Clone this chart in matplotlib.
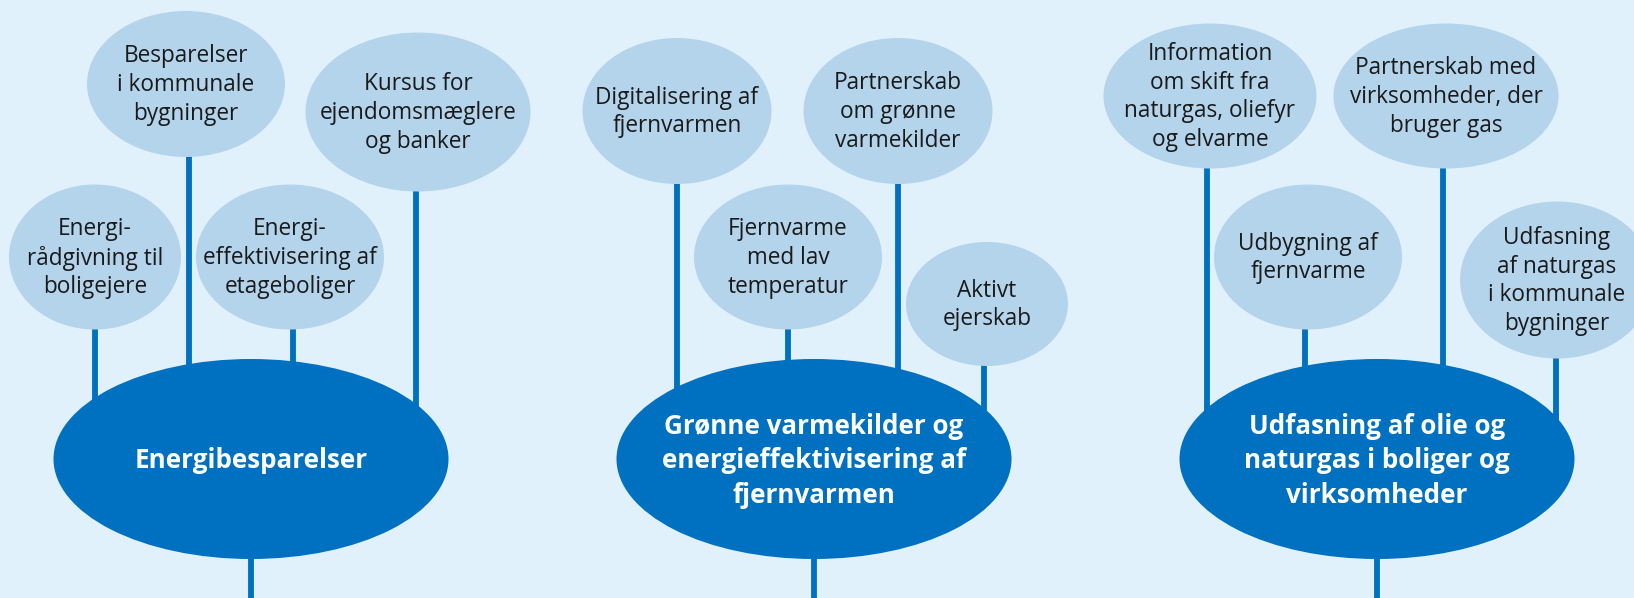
import matplotlib
matplotlib.use("Agg")
import matplotlib.pyplot as plt
from matplotlib.patches import Ellipse

# ---- content ----
main_labels = [
    "Energibesparelser",
    "Grønne varmekilder og\nenergieffektivisering af\nfjernvarmen",
    "Udfasning af olie og\nnaturgas i boliger og\nvirksomheder",
]
group1_labels = [
    "Energi-\nrådgivning til\nboligejere",
    "Besparelser\ni kommunale\nbygninger",
    "Energi-\neffektivisering af\netageboliger",
    "Kursus for\nejendomsmæglere\nog banker",
]
group2_labels = [
    "Digitalisering af\nfjernvarmen",
    "Fjernvarme\nmed lav\ntemperatur",
    "Partnerskab\nom grønne\nvarmekilder",
    "Aktivt\nejerskab",
]
group3_labels = [
    "Information\nom skift fra\nnaturgas, oliefyr\nog elvarme",
    "Udbygning af\nfjernvarme",
    "Partnerskab med\nvirksomheder, der\nbruger gas",
    "Udfasning\naf naturgas\ni kommunale\nbygninger",
]

# ---- layout (pixel coordinates, y downward) ----
W, H = 1634, 598
main_centers = [(251, 459), (814, 459), (1377, 459)]
main_size = (395, 200)
# (cx, cy, w, h) for each small bubble
group1_layout = [(95, 257, 172, 145), (186, 84, 198, 146), (290, 257, 188, 145), (418, 112, 225, 159)]
group2_layout = [(677, 111, 189, 146), (788, 257, 188, 145), (898, 111, 189, 146), (987, 304, 162, 124)]
group3_layout = [(1210, 96, 213, 145), (1308, 257, 188, 145), (1446, 96, 225, 145), (1557, 280, 194, 157)]
stem_x = [
    [95, 189, 293, 416],
    [677, 788, 898, 984],
    [1207, 1305, 1443, 1556],
]

BG = "#E1F1FC"
LIGHT = "#B4D4EC"
DARK = "#0070C0"
TXT = "#1A1A1A"

fig = plt.figure(figsize=(W / 100, H / 100), dpi=100, facecolor=BG)
ax = fig.add_axes([0, 0, 1, 1])
ax.set_xlim(0, W)
ax.set_ylim(H, 0)
ax.axis("off")
ax.set_facecolor(BG)

groups = [group1_labels, group2_labels, group3_labels]
layouts = [group1_layout, group2_layout, group3_layout]

for gi, (mlabel, (mx, my)) in enumerate(zip(main_labels, main_centers)):
    # stem down from main bubble
    ax.plot([mx, mx], [my, H + 5], color=DARK, lw=4.2, solid_capstyle="butt", zorder=1)
    for lab, (cx, cy, w, h), sx in zip(groups[gi], layouts[gi], stem_x[gi]):
        ax.plot([sx, sx], [cy, my], color=DARK, lw=4.2, solid_capstyle="butt", zorder=1)
        ax.add_patch(Ellipse((cx, cy), w, h, facecolor=LIGHT, edgecolor="none", zorder=2))
        ax.text(cx, cy + 1, lab, ha="center", va="center", fontsize=16.3, family="Open Sans",
                color=TXT, linespacing=1.26, zorder=3)
    ax.add_patch(Ellipse((mx, my), main_size[0], main_size[1], facecolor=DARK,
                         edgecolor="none", zorder=2))
    ax.text(mx, my + 2, mlabel, ha="center", va="center", fontsize=18.7, family="Open Sans",
            fontweight="bold", color="white", linespacing=1.36, zorder=3)

fig.savefig("out.png", dpi=100, facecolor=BG)
